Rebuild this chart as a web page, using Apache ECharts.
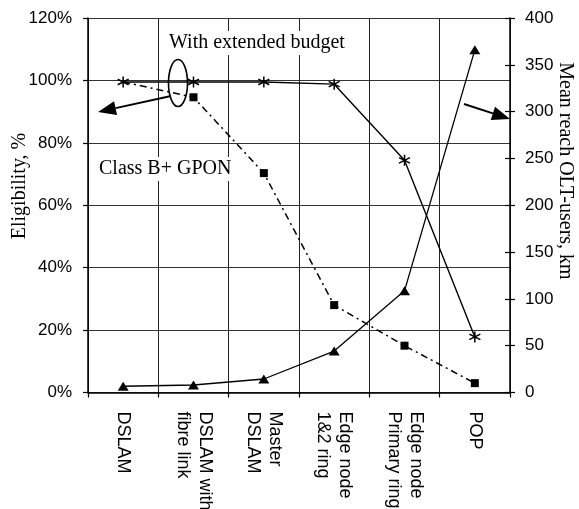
<!DOCTYPE html>
<html>
<head>
<meta charset="utf-8">
<script src="https://cdn.jsdelivr.net/npm/echarts@6/dist/echarts.min.js"></script>
<style>
  html, body { margin: 0; padding: 0; background: #fff; }
  #chart { width: 579px; height: 509px; }
</style>
</head>
<body>
<div id="chart"></div>
<script>
// Network elements along the access chain
const categories = ['DSLAM', 'DSLAM with\nfibre link', 'Master\nDSLAM', 'Edge node\n1&2 ring', 'Edge node\nPrimary ring', 'POP'];

// Eligibility (%), extended budget
const eligibilityExtended = [99.5, 99.5, 99.5, 98.8, 74.4, 17.8];
// Eligibility (%), Class B+ GPON
const eligibilityClassB = [99.5, 94.6, 70.3, 28.0, 15.0, 3.0];
// Mean reach of OLT users (km)
const meanReachKm = [6.7, 8.0, 14.4, 44.3, 108.6, 366];

// Axis ranges
const leftTicks = { min: 0, max: 120, interval: 20 };
const rightTicks = { min: 0, max: 400, interval: 50 };

const SANS = 'Liberation Sans, Arial, sans-serif';
const SERIF = 'Liberation Serif, Times New Roman, serif';
const INK = '#000';

// Excel-style asterisk marker: an X with a vertical bar through it
const asterisk = 'path://M5,0L5,10M0.7,2.5L9.3,7.5M0.7,7.5L9.3,2.5';

function arrow(x1, y1, x2, y2, headLen, headHalf) {
  const dx = x2 - x1, dy = y2 - y1;
  const len = Math.sqrt(dx * dx + dy * dy);
  const ux = dx / len, uy = dy / len;
  const bx = x2 - ux * headLen, by = y2 - uy * headLen;
  const px = -uy, py = ux;
  return [
    { type: 'line', shape: { x1: x1, y1: y1, x2: bx, y2: by },
      style: { stroke: INK, lineWidth: 2 }, z: 100 },
    { type: 'polygon',
      shape: { points: [[x2, y2], [bx + px * headHalf, by + py * headHalf], [bx - px * headHalf, by - py * headHalf]] },
      style: { fill: INK }, z: 100 }
  ];
}

const chart = echarts.init(document.getElementById('chart'), null, { renderer: 'canvas' });

const option = {
  backgroundColor: '#fff',
  animation: false,
  grid: { left: 88, right: 69, top: 18, bottom: 116.5, containLabel: false, outerBoundsMode: 'none' },
  xAxis: {
    type: 'category',
    data: categories,
    boundaryGap: true,
    axisLine: { show: true, lineStyle: { color: INK, width: 1.5 } },
    axisTick: { show: true, length: 5, lineStyle: { color: INK, width: 1.2 } },
    splitLine: { show: true, interval: 0, lineStyle: { color: '#222', width: 1 } },
    axisLabel: {
      interval: 0, rotate: -90, margin: 19,
      color: INK, fontFamily: SANS, fontSize: 18, lineHeight: 22
    }
  },
  yAxis: [
    {
      type: 'value', position: 'left',
      min: leftTicks.min, max: leftTicks.max, interval: leftTicks.interval,
      axisLine: { show: true, lineStyle: { color: INK, width: 1.5 } },
      axisTick: { show: true, length: 5, lineStyle: { color: INK, width: 1.2 } },
      splitLine: { show: true, lineStyle: { color: '#333', width: 1 } },
      axisLabel: { formatter: '{value}%', margin: 16, color: INK, fontFamily: SANS, fontSize: 17 }
    },
    {
      type: 'value', position: 'right',
      min: rightTicks.min, max: rightTicks.max, interval: rightTicks.interval,
      axisLine: { show: true, lineStyle: { color: INK, width: 1.5 } },
      axisTick: { show: true, length: 5, lineStyle: { color: INK, width: 1.2 } },
      splitLine: { show: false },
      axisLabel: { margin: 15, color: INK, fontFamily: SANS, fontSize: 17 }
    },
    {
      // inner half of the right-hand tick marks
      type: 'value', position: 'right',
      min: rightTicks.min, max: rightTicks.max, interval: rightTicks.interval,
      axisLine: { show: false },
      axisTick: { show: true, inside: true, length: 5, lineStyle: { color: INK, width: 1.2 } },
      splitLine: { show: false },
      axisLabel: { show: false }
    }
  ],
  series: [
    {
      name: 'Class B+ GPON',
      type: 'line', yAxisIndex: 0,
      data: eligibilityClassB.map((v, i) => i === 0 ? { value: v, symbol: 'none' } : v),
      symbol: 'rect', symbolSize: 8,
      itemStyle: { color: INK },
      lineStyle: { color: INK, width: 1.5, type: [7, 4, 2, 4] },
      z: 3
    },
    {
      name: 'With extended budget',
      type: 'line', yAxisIndex: 0,
      data: eligibilityExtended,
      symbol: asterisk, symbolSize: 11,
      itemStyle: { color: 'none', borderColor: INK, borderWidth: 1.5 },
      lineStyle: { color: INK, width: 1.4 },
      z: 4
    },
    {
      name: 'Mean reach OLT-users, km',
      type: 'line', yAxisIndex: 1,
      data: meanReachKm,
      symbol: 'triangle', symbolSize: [11, 9],
      itemStyle: { color: INK },
      lineStyle: { color: INK, width: 1.3 },
      z: 4
    }
  ],
  graphic: [
    { type: 'text', x: 20, y: 186, rotation: Math.PI / 2, z: 100,
      style: { text: 'Eligibility, %', font: '20px ' + SERIF, fill: INK, align: 'center', verticalAlign: 'middle' } },
    { type: 'text', x: 565, y: 171, rotation: -Math.PI / 2, z: 100,
      style: { text: 'Mean reach OLT-users, km', font: '20px ' + SERIF, fill: INK, align: 'center', verticalAlign: 'middle' } },
    { type: 'text', x: 167, y: 43, z: 100,
      style: { text: 'With extended budget', font: '20px ' + SERIF, fill: INK, align: 'left', verticalAlign: 'middle', backgroundColor: '#fff', padding: [2, 2, 2, 2] } },
    { type: 'text', x: 97, y: 169, z: 100,
      style: { text: 'Class B+ GPON', font: '20px ' + SERIF, fill: INK, align: 'left', verticalAlign: 'middle', backgroundColor: '#fff', padding: [2, 2, 2, 2] } },
    { type: 'ellipse', shape: { cx: 178, cy: 83, rx: 9.5, ry: 23.5 }, z: 100,
      style: { fill: 'none', stroke: INK, lineWidth: 1.6 } }
  ]
    .concat(arrow(171, 96, 98, 112, 18, 7))
    .concat(arrow(464, 104, 510, 119, 18, 7))
};

chart.setOption(option);
</script>
</body>
</html>
